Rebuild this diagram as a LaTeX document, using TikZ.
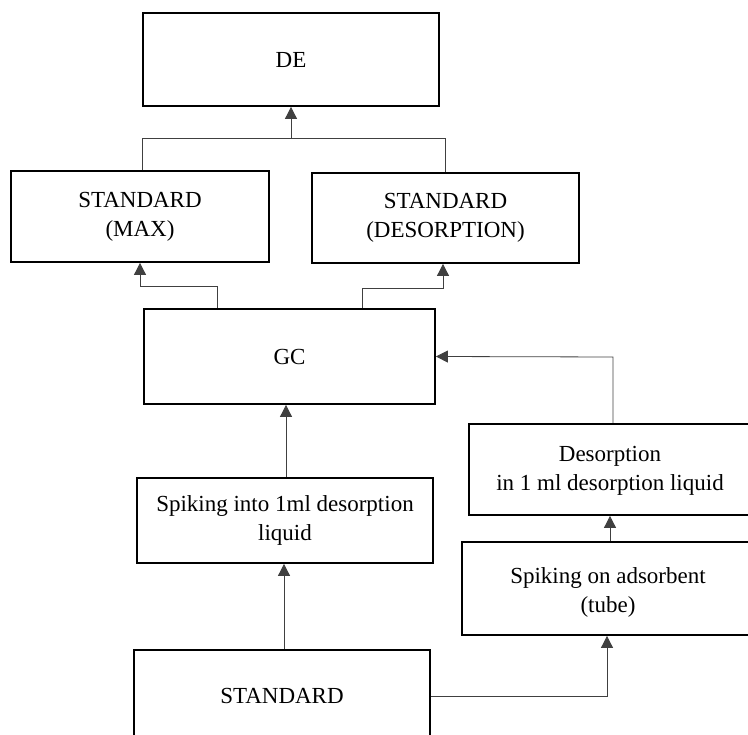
\documentclass[tikz,border=0pt]{standalone}
\usepackage{fontspec}
\setmainfont{Liberation Serif}
\usetikzlibrary{arrows.meta}
\tikzset{
  box/.style={draw=black, line width=1.8pt, rectangle, inner sep=0pt, align=center,
              font=\fontsize{23}{29}\selectfont},
  lbl/.style={inner sep=0pt, align=center, font=\fontsize{23}{29}\selectfont},
  conn/.style={draw=black!75, line width=0.8pt},
  arr/.style={conn, -{Triangle[width=12pt,length=12pt,fill=black!75]}}
}
\begin{document}
\begin{tikzpicture}[x=1pt,y=-1pt]
\useasboundingbox (0,0) rectangle (748,735);
\clip (0,0) rectangle (748,735);
\node[box, minimum width=296pt, minimum height=93pt] (DE) at (291,59.5) {DE};
\node[box, minimum width=258pt, minimum height=91pt] (max) at (140,216.5) {STANDARD\\(MAX)};
\node[box, minimum width=267pt, minimum height=90pt] (des) at (445.5,218) {STANDARD\\(DESORPTION)};
\node[box, minimum width=291pt, minimum height=95pt] (GC) at (289.5,356.5) {GC};
\node[box, minimum width=320pt, minimum height=91pt] (desorp) at (629,469.5) {};
\node[lbl] (desorpT) at (610,471) {Desorption\\in 1 ml desorption liquid};
\node[box, minimum width=296pt, minimum height=85pt] (spk) at (285,520.5) {Spiking into 1ml desorption\\liquid};
\node[box, minimum width=320pt, minimum height=93pt] (ads) at (622,588.5) {};
\node[lbl] (adsT) at (608,592) {Spiking on adsorbent\\(tube)};
\node[box, minimum width=296pt, minimum height=95pt] (std) at (282,697.5) {};
\node[lbl] (stdT) at (282,696) {STANDARD};
% top join
\coordinate (j1) at (142,138);
\coordinate (j2) at (445,138);
\coordinate (j3) at (291,138);
\draw[conn] (max.north -| j1) -- (j1) -- (j2) -- (des.north -| j2);
\draw[arr] (j3) -- (DE.south -| j3);
% GC to standards
\coordinate (k1) at (217,286);
\coordinate (k2) at (140,286);
\draw[arr] (GC.north -| k1) -- (k1) -- (k2) -- (max.south -| k2);
\coordinate (m1) at (362,288);
\coordinate (m2) at (443,288);
\draw[arr] (GC.north -| m1) -- (m1) -- (m2) -- (des.south -| m2);
% desorption to GC
\coordinate (n1) at (613,357);
\draw[arr] (desorp.north -| n1) -- (n1) -- (GC.east);
% spiking to GC
\coordinate (p1) at (286,0);
\draw[arr] (spk.north -| p1) -- (GC.south -| p1);
% standard to spiking
\coordinate (q1) at (284,0);
\draw[arr] (std.north -| q1) -- (spk.south -| q1);
% adsorbent to desorption
\coordinate (r1) at (610,0);
\draw[arr] (ads.north -| r1) -- (desorp.south -| r1);
% standard to adsorbent
\coordinate (s1) at (607,696);
\draw[arr] (std.east |- s1) -- (s1) -- (ads.south -| s1);
\end{tikzpicture}
\end{document}
